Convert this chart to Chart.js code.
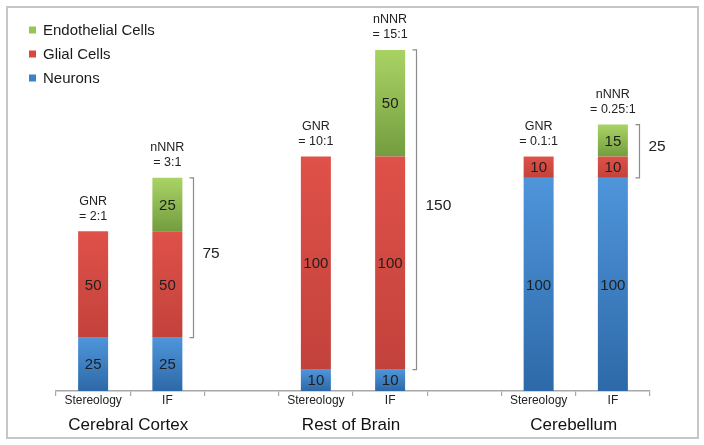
<!DOCTYPE html>
<html>
<head>
<meta charset="utf-8">
<script src="https://cdn.jsdelivr.net/npm/chart.js@4"></script>
<style>
html,body{margin:0;padding:0;background:#fff;}
#wrap{position:relative;width:704px;height:445px;}
#frame{position:absolute;left:6px;top:6px;width:689px;height:429px;border:2px solid #c6c6c6;pointer-events:none;}
canvas{position:absolute;left:0;top:0;}
</style>
</head>
<body>
<div id="wrap">
<canvas id="c" width="704" height="445"></canvas>
<div id="frame"></div>
</div>
<script>
// ---- data ----
const categories = ['Stereology', 'IF', '', 'Stereology', 'IF', '', 'Stereology', 'IF'];
const groups = ['Cerebral Cortex', 'Rest of Brain', 'Cerebellum'];
const neurons = [25, 25, null, 10, 10, null, 100, 100];
const glialCells = [50, 50, null, 100, 100, null, 10, 10];
const endothelialCells = [null, 25, null, null, 50, null, null, 15];
const gnrLabels = ['= 2:1', '= 10:1', '= 0.1:1'];
const nnnrLabels = ['= 3:1', '= 15:1', '= 0.25:1'];
const bracketLabels = ['75', '150', '25'];

const FONT = '"Liberation Sans", Arial, Helvetica, sans-serif';
const seriesData = [neurons, glialCells, endothelialCells];
const gradStops = [
  ['#4f95da', '#2d69a8'],
  ['#df5149', '#c2423b'],
  ['#aad365', '#739d3f']
];

function gradFor(dsIndex) {
  return function(ctx) {
    const chart = ctx.chart;
    const y = chart.scales && chart.scales.y;
    if (ctx.type !== 'data' || !y || y.top === undefined) return gradStops[dsIndex][0];
    let start = 0;
    for (let k = 0; k < dsIndex; k++) start += (seriesData[k][ctx.dataIndex] || 0);
    const v = seriesData[dsIndex][ctx.dataIndex] || 0;
    const yTop = y.getPixelForValue(start + v);
    const yBot = y.getPixelForValue(start);
    if (!isFinite(yTop) || !isFinite(yBot) || yTop === yBot) return gradStops[dsIndex][0];
    const g = chart.ctx.createLinearGradient(0, yTop, 0, yBot);
    g.addColorStop(0, gradStops[dsIndex][0]);
    g.addColorStop(1, gradStops[dsIndex][1]);
    return g;
  };
}

const annotPlugin = {
  id: 'annot',
  afterDatasetsDraw(chart) {
    const c = chart.ctx;
    const xs = chart.scales.x, ys = chart.scales.y;
    c.save();
    // values inside bars
    c.fillStyle = '#1e1e1e';
    c.font = '15px ' + FONT;
    c.textAlign = 'center';
    c.textBaseline = 'middle';
    chart.data.datasets.forEach((ds, di) => {
      const meta = chart.getDatasetMeta(di);
      meta.data.forEach((bar, i) => {
        const v = ds.data[i];
        if (v == null) return;
        const p = bar.getProps(['x', 'y', 'base'], true);
        c.fillText(String(v), p.x, (p.y + p.base) / 2 + 1);
      });
    });
    // ratio labels and brackets
    const top = (i) => {
      let s = 0;
      seriesData.forEach(a => s += (a[i] || 0));
      return ys.getPixelForValue(s);
    };
    const barHalf = chart.getDatasetMeta(0).data[0].width / 2;
    c.fillStyle = '#222';
    groups.forEach((g, gi) => {
      const iS = gi * 3, iF = gi * 3 + 1;
      const xS = xs.getPixelForValue(iS), xF = xs.getPixelForValue(iF);
      const tS = top(iS), tF = top(iF);
      c.font = '12.5px ' + FONT;
      c.textAlign = 'center';
      c.fillText('GNR', xS, tS - 30);
      c.fillText(gnrLabels[gi], xS, tS - 15);
      c.fillText('nNNR', xF, tF - 30);
      c.fillText(nnnrLabels[gi], xF, tF - 15);
      // bracket
      const yB = ys.getPixelForValue(neurons[iF]);
      const bx = Math.round(xF + barHalf + 11) + 0.5;
      c.strokeStyle = '#8c8c8c';
      c.lineWidth = 1.2;
      c.beginPath();
      c.moveTo(bx - 4, tF);
      c.lineTo(bx, tF);
      c.lineTo(bx, yB);
      c.lineTo(bx - 4, yB);
      c.stroke();
      c.font = '15.5px ' + FONT;
      c.textAlign = 'left';
      c.fillText(bracketLabels[gi], bx + 9, (tF + yB) / 2 - 4);
      // group labels
      c.font = '17px ' + FONT;
      c.textAlign = 'center';
      c.fillStyle = '#111';
      c.fillText(g, (xS + xF) / 2 - 2, 425);
      c.fillStyle = '#222';
    });
    // legend
    const legendItems = [
      ['Endothelial Cells', '#95c553'],
      ['Glial Cells', '#d9483f'],
      ['Neurons', '#3b82c8']
    ];
    c.font = '15px ' + FONT;
    c.textAlign = 'left';
    legendItems.forEach((it, k) => {
      const y = 30 + k * 24;
      c.fillStyle = it[1];
      c.fillRect(29, y - 3.5, 7, 7);
      c.fillStyle = '#1a1a1a';
      c.fillText(it[0], 43, y + 1);
    });
    c.restore();
  }
};

new Chart(document.getElementById('c'), {
  type: 'bar',
  data: {
    labels: categories,
    datasets: [
      { label: 'Neurons', data: neurons, backgroundColor: gradFor(0) },
      { label: 'Glial Cells', data: glialCells, backgroundColor: gradFor(1) },
      { label: 'Endothelial Cells', data: endothelialCells, backgroundColor: gradFor(2) }
    ]
  },
  options: {
    responsive: false,
    animation: false,
    devicePixelRatio: 1,
    layout: { padding: { left: 56, right: 54, top: 18, bottom: 0 } },
    datasets: { bar: { categoryPercentage: 1, barPercentage: 0.404, borderWidth: 0 } },
    plugins: { legend: { display: false }, tooltip: { enabled: false } },
    scales: {
      x: {
        stacked: true,
        offset: true,
        grid: { display: true, drawOnChartArea: false, drawTicks: true, tickLength: 5, color: '#a8a8a8', offset: true, lineWidth: 1.2 },
        border: { display: true, color: '#a8a8a8', width: 1.5 },
        ticks: { font: { family: FONT, size: 12 }, color: '#222', padding: -3, maxRotation: 0, autoSkip: false },
        afterFit(scale) { scale.height = 54; }
      },
      y: {
        stacked: true,
        display: false,
        min: 0,
        max: 175
      }
    }
  },
  plugins: [annotPlugin]
});
</script>
</body>
</html>
